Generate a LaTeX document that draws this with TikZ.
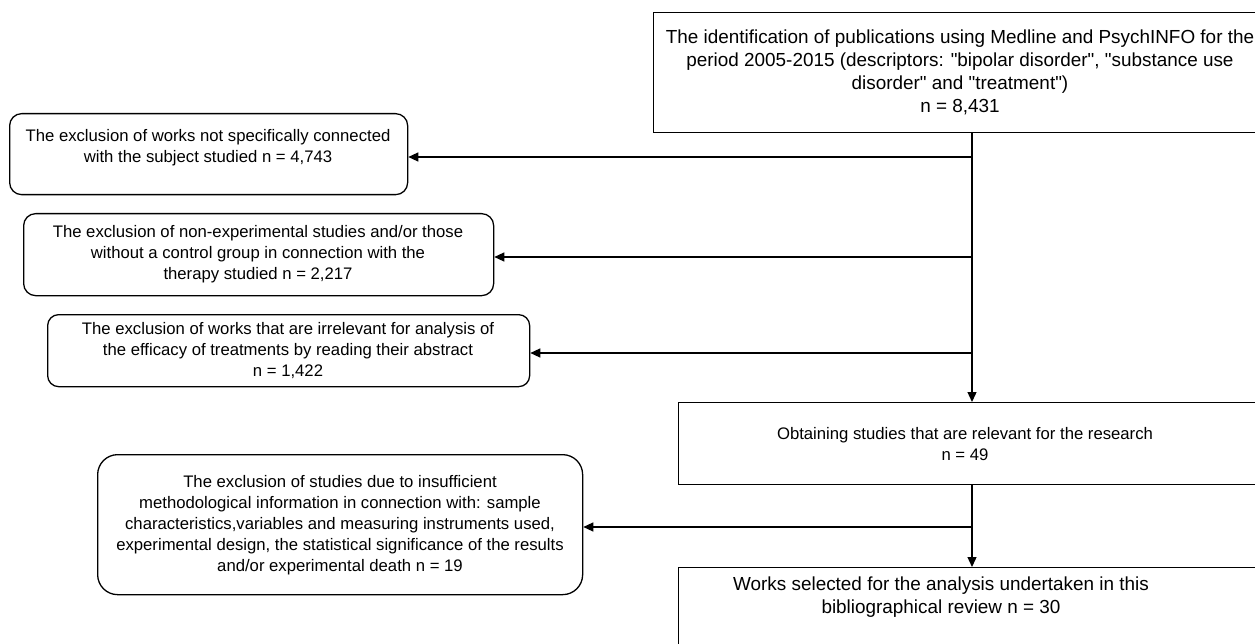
\documentclass[tikz,border=0pt]{standalone}
\usepackage{fontspec}
\setmainfont{Liberation Sans}[Ligatures=TeXOff]
\usetikzlibrary{arrows.meta}
\begin{document}
\begin{tikzpicture}[x=1pt,y=-1pt,
  sq/.style={draw=black, line width=1.3pt, rectangle, anchor=north west, inner sep=0pt},
  rbox/.style={sq, rounded corners=#1},
  txt/.style={align=center, inner sep=0pt, font=\fontsize{16.7}{21}\selectfont},
  bigtxt/.style={align=center, inner sep=0pt, font=\fontsize{18.9}{23}\selectfont},
  arr/.style={line width=1.3pt, -{Triangle[length=10pt,width=9pt]}}]
\useasboundingbox (0,0) rectangle (1255,644);
\clip (0,0) rectangle (1255,644);
% boxes
\node[sq, minimum width=654pt, minimum height=120pt] (top) at (653,12) {};
\node[rbox=12pt, minimum width=398pt, minimum height=81pt] (b1) at (9,113) {};
\node[rbox=12pt, minimum width=470pt, minimum height=82pt] (b2) at (23,213) {};
\node[rbox=11pt, minimum width=482pt, minimum height=72pt] (b3) at (47,314) {};
\node[sq, minimum width=640pt, minimum height=82pt] (obt) at (678,402) {};
\node[rbox=20pt, minimum width=485pt, minimum height=140pt] (b4) at (97,454) {};
\node[sq, minimum width=640pt, minimum height=120pt] (works) at (678,567) {};
% texts
\node[bigtxt] (ttop) at (960,72) {The identification of publications using Medline and PsychINFO for the\\period 2005-2015 (descriptors: "bipolar disorder", "substance use\\disorder" and "treatment")\\n = 8,431};
\node[txt] (tb1) at (208,148) {The exclusion of works not specifically connected\\with the subject studied n = 4,743};
\node[txt] (tb2) at (258,254) {The exclusion of non-experimental studies and/or those\\without a control group in connection with the\\therapy studied n = 2,217};
\node[txt] (tb3) at (288,351) {The exclusion of works that are irrelevant for analysis of\\the efficacy of treatments by reading their abstract\\n = 1,422};
\node[txt] (tobt) at (965,444) {Obtaining studies that are relevant for the research\\n = 49};
\node[txt] (tb4) at (340,525) {The exclusion of studies due to insufficient\\methodological information in connection with: sample\\characteristics,variables and measuring instruments used,\\experimental design, the statistical significance of the results\\and/or experimental death n = 19};
\node[bigtxt] (tworks) at (941,597) {Works selected for the analysis undertaken in this\\bibliographical review n = 30};
% junctions
\coordinate (j1) at (972,157);
\coordinate (j2) at (972,257);
\coordinate (j3) at (972,353);
\coordinate (j4) at (972,527);
% connectors
\draw[arr] (top.south -| j1) -- (obt.north -| j1);
\draw[arr] (j1) -- (j1 -| b1.east);
\draw[arr] (j2) -- (j2 -| b2.east);
\draw[arr] (j3) -- (j3 -| b3.east);
\draw[arr] (obt.south -| j4) -- (works.north -| j4);
\draw[arr] (j4) -- (j4 -| b4.east);
\end{tikzpicture}
\end{document}
